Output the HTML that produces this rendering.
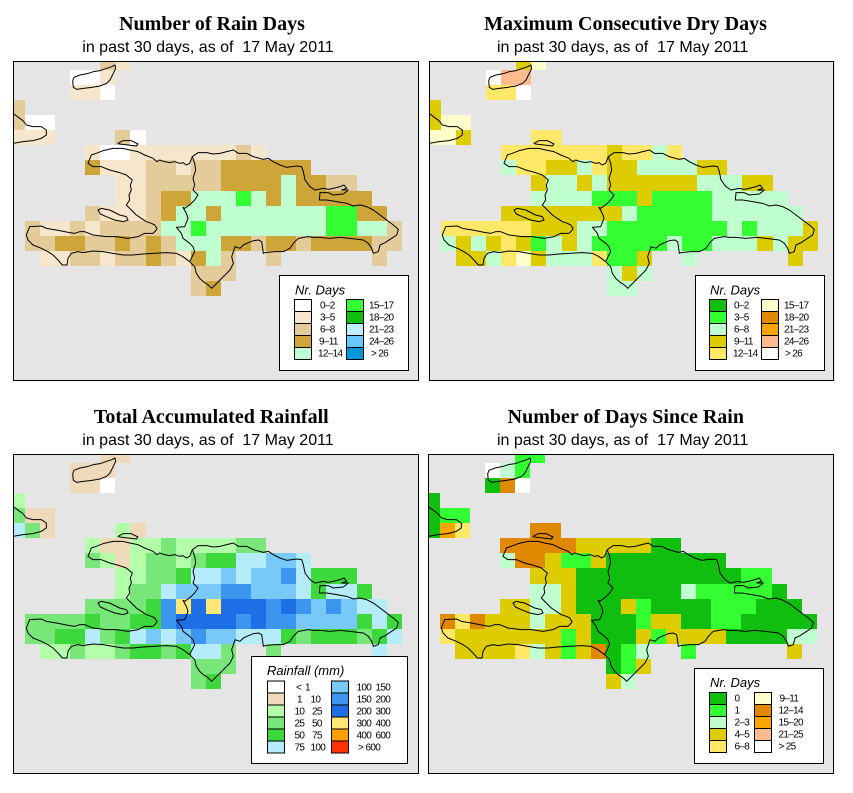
<!DOCTYPE html>
<html>
<head>
<meta charset="utf-8">
<style>
html,body{margin:0;padding:0;background:#fff;}
svg{display:block;}
.t{font-family:"Liberation Serif",serif;font-weight:bold;font-size:20px;}
.st{font-family:"Liberation Sans",sans-serif;font-size:16px;white-space:pre;}
.lt{font-family:"Liberation Sans",sans-serif;font-size:13px;font-style:italic;}
.lb{font-family:"Liberation Sans",sans-serif;font-size:10px;letter-spacing:-0.7px;}
</style>
</head>
<body>
<svg width="853" height="793" xmlns="http://www.w3.org/2000/svg" xmlns:xlink="http://www.w3.org/1999/xlink">
<defs>
  <clipPath id="fc"><rect x="0" y="0" width="406" height="320"/></clipPath>
  <g id="coast" transform="translate(-13,-61) scale(0.333333)" fill="none" stroke="#000" stroke-width="3" stroke-linejoin="round">
    <path d="M264,490 L274,465 L289,460 L309,452 L339,445 L369,445 L389,450 L414,455 L434,465 L459,475 L471,485 L479,480 L494,485 L509,488 L524,485 L539,490 L549,488 L559,495 L569,490 L577,470 L594,458 L620,458 L640,462 L660,460 L680,455 L700,450 L715,460 L740,460 L760,470 L790,478 L805,475 L820,485 L840,495 L860,502 L890,498 L905,500 L910,515 L915,540 L930,560 L945,570 L970,565 L985,568 L1000,565 L1020,560 L1032,555 L1040,565 L1025,570 L1045,570 L1030,582 L1000,585 L985,578 L960,578 L958,600 L980,600 L1010,605 L1040,610 L1060,618 L1080,615 L1100,620 L1120,630 L1140,645 L1160,660 L1180,675 L1195,688 L1190,705 L1175,715 L1155,728 L1140,735 L1135,755 L1120,760 L1115,745 L1105,730 L1090,720 L1050,715 L1020,712 L990,715 L960,712 L940,712 L925,710 L895,715 L880,730 L870,745 L850,755 L825,755 L795,758 L790,760 L788,745 L785,725 L775,720 L760,722 L745,728 L730,735 L720,745 L705,740 L700,755 L695,770 L700,790 L690,810 L675,825 L660,840 L645,855 L635,865 L625,855 L610,845 L599,835 L589,820 L584,800 L569,785 L549,770 L529,760 L499,758 L459,760 L429,762 L399,765 L369,765 L339,760 L309,755 L279,753 L249,758 L234,755 L214,760 L204,775 L201,795 L187,795 L174,780 L159,765 L144,755 L124,745 L99,735 L84,720 L79,705 L89,680 L124,678 L139,685 L169,690 L209,698 L224,700 L239,695 L254,695 L279,705 L319,710 L349,710 L384,715 L414,710 L434,700 L459,700 L469,690 L471,685 L464,675 L454,670 L439,665 L424,655 L409,645 L394,630 L379,615 L389,600 L387,585 L394,570 L391,555 L397,540 L391,535 L379,525 L359,518 L329,510 L304,500 L279,500 Z"/>
    <path d="M577,470 L584,490 L587,510 L579,535 L584,555 L579,570 L594,585 L584,600 L574,610 L564,618 L554,625 L549,622 L559,640 L564,655 L554,680 L529,682 L544,700 L549,715 L569,730 L579,740 L584,755 L574,775 L569,785"/>
    <path d="M294,630 L304,625 L329,630 L359,645 L379,650 L384,660 L369,665 L344,660 L319,650 L301,642 Z"/>
    <path d="M354,430 L369,422 L394,422 L414,432 L409,438 L384,435 L359,432 Z"/>
    <path d="M218,243 L222,232 L240,225 L265,220 L280,215 L300,212 L320,205 L335,200 L345,195 L347,205 L340,220 L330,240 L320,250 L300,258 L275,262 L250,265 L230,268 L220,262 Z"/>
    <path d="M39,340 L55,352 L69,362 L79,375 L99,380 L124,380 L139,390 L139,405 L124,415 L99,422 L69,425 L39,430"/>
  </g>
</defs>

<!-- Titles -->
<text class="t" x="212" y="30" text-anchor="middle">Number of Rain Days</text>
<text class="st" x="208" y="52" text-anchor="middle" xml:space="preserve">in past 30 days, as of  17 May 2011</text>
<text class="t" x="625.5" y="30" text-anchor="middle">Maximum Consecutive Dry Days</text>
<text class="st" x="622.7" y="52" text-anchor="middle" xml:space="preserve">in past 30 days, as of  17 May 2011</text>
<text class="t" x="211.3" y="423" text-anchor="middle">Total Accumulated Rainfall</text>
<text class="st" x="208" y="445" text-anchor="middle" xml:space="preserve">in past 30 days, as of  17 May 2011</text>
<text class="t" x="625.8" y="423" text-anchor="middle">Number of Days Since Rain</text>
<text class="st" x="622.7" y="445" text-anchor="middle" xml:space="preserve">in past 30 days, as of  17 May 2011</text>

<!-- Panel 1 -->
<g transform="translate(13,61)">
  <rect x="0" y="0" width="406" height="320" fill="#e5e5e5"/>
  <g clip-path="url(#fc)">
    <g id="c1" shape-rendering="crispEdges"></g>
    <use xlink:href="#coast" href="#coast"/>
  </g>
  <rect x="0.5" y="0.5" width="405" height="319" fill="none" stroke="#000"/>
  <rect x="266.5" y="214.5" width="129" height="95" fill="#fff" stroke="#000"/>
  <text class="lt" x="282" y="233.5">Nr. Days</text>
  <g stroke="#000" shape-rendering="crispEdges">
    <rect x="281.5" y="238.5" width="17" height="12" fill="#ffffff"/>
    <rect x="281.5" y="250.5" width="17" height="12" fill="#f5e6cc"/>
    <rect x="281.5" y="262.5" width="17" height="12" fill="#e4cc9a"/>
    <rect x="281.5" y="274.5" width="17" height="12" fill="#cda538"/>
    <rect x="281.5" y="286.5" width="17" height="12" fill="#c0ffd0"/>
    <rect x="333.5" y="238.5" width="17" height="12" fill="#33ff33"/>
    <rect x="333.5" y="250.5" width="17" height="12" fill="#10be10"/>
    <rect x="333.5" y="262.5" width="17" height="12" fill="#bfefff"/>
    <rect x="333.5" y="274.5" width="17" height="12" fill="#66c8ff"/>
    <rect x="333.5" y="286.5" width="17" height="12" fill="#0096dc"/>
  </g>
  <text class="lb" x="307" y="247.5">0–2</text>
  <text class="lb" x="307" y="259.5">3–5</text>
  <text class="lb" x="307" y="271.5">6–8</text>
  <text class="lb" x="306" y="283.5">9–11</text>
  <text class="lb" x="305" y="295.5">12–14</text>
  <text class="lb" x="356" y="247.5">15–17</text>
  <text class="lb" x="356" y="259.5">18–20</text>
  <text class="lb" x="356" y="271.5">21–23</text>
  <text class="lb" x="356" y="283.5">24–26</text>
  <text class="lb" x="358" y="295.5">&gt; 26</text>
</g>

<!-- Panel 2 -->
<g transform="translate(429,61)">
  <rect x="0" y="0" width="406" height="320" fill="#e5e5e5"/>
  <g clip-path="url(#fc)">
    <g id="c2" shape-rendering="crispEdges"></g>
    <use xlink:href="#coast" href="#coast"/>
  </g>
  <rect x="0.5" y="0.5" width="404" height="319" fill="none" stroke="#000"/>
  <rect x="266.5" y="214.5" width="129" height="95" fill="#fff" stroke="#000"/>
  <text class="lt" x="281" y="233.5">Nr. Days</text>
  <g stroke="#000" shape-rendering="crispEdges">
    <rect x="280.5" y="238.5" width="17" height="12" fill="#10be10"/>
    <rect x="280.5" y="250.5" width="17" height="12" fill="#33ff33"/>
    <rect x="280.5" y="262.5" width="17" height="12" fill="#c0ffd0"/>
    <rect x="280.5" y="274.5" width="17" height="12" fill="#dccc00"/>
    <rect x="280.5" y="286.5" width="17" height="12" fill="#ffe868"/>
    <rect x="332.5" y="238.5" width="17" height="12" fill="#ffffcc"/>
    <rect x="332.5" y="250.5" width="17" height="12" fill="#e08800"/>
    <rect x="332.5" y="262.5" width="17" height="12" fill="#ffa500"/>
    <rect x="332.5" y="274.5" width="17" height="12" fill="#ffbb90"/>
    <rect x="332.5" y="286.5" width="17" height="12" fill="#ffffff"/>
  </g>
  <text class="lb" x="305" y="247.5">0–2</text>
  <text class="lb" x="305" y="259.5">3–5</text>
  <text class="lb" x="305" y="271.5">6–8</text>
  <text class="lb" x="305" y="283.5">9–11</text>
  <text class="lb" x="304" y="295.5">12–14</text>
  <text class="lb" x="355" y="247.5">15–17</text>
  <text class="lb" x="355" y="259.5">18–20</text>
  <text class="lb" x="355" y="271.5">21–23</text>
  <text class="lb" x="355" y="283.5">24–26</text>
  <text class="lb" x="356" y="295.5">&gt; 26</text>
</g>

<!-- Panel 3 -->
<g transform="translate(13,454)">
  <rect x="0" y="0" width="406" height="320" fill="#e5e5e5"/>
  <g clip-path="url(#fc)">
    <g id="c3" shape-rendering="crispEdges"></g>
    <use xlink:href="#coast" href="#coast"/>
  </g>
  <rect x="0.5" y="0.5" width="405" height="319" fill="none" stroke="#000"/>
  <rect x="238.5" y="202.5" width="156" height="107" fill="#fff" stroke="#000"/>
  <text class="lt" x="254" y="221">Rainfall (mm)</text>
  <g stroke="#000" shape-rendering="crispEdges">
    <rect x="254.5" y="227" width="17" height="12" fill="#ffffff"/>
    <rect x="254.5" y="239" width="17" height="12" fill="#eedab8"/>
    <rect x="254.5" y="251" width="17" height="12" fill="#b4ffaa"/>
    <rect x="254.5" y="263" width="17" height="12" fill="#78e678"/>
    <rect x="254.5" y="275" width="17" height="12" fill="#3cd83c"/>
    <rect x="254.5" y="287" width="17" height="12" fill="#b4ecfa"/>
    <rect x="318.5" y="227" width="17" height="12" fill="#78c8f8"/>
    <rect x="318.5" y="239" width="17" height="12" fill="#3c96f0"/>
    <rect x="318.5" y="251" width="17" height="12" fill="#1e6ee6"/>
    <rect x="318.5" y="263" width="17" height="12" fill="#ffe678"/>
    <rect x="318.5" y="275" width="17" height="12" fill="#ffa000"/>
    <rect x="318.5" y="287" width="17" height="12" fill="#ff3200"/>
  </g>
  <text class="lb" y="236.5"><tspan x="283">&lt;</tspan><tspan x="292">1</tspan></text>
  <text class="lb" y="248.5"><tspan x="284">1</tspan><tspan x="297.5">10</tspan></text>
  <text class="lb" y="260.5"><tspan x="281.5">10</tspan><tspan x="299">25</tspan></text>
  <text class="lb" y="272.5"><tspan x="281.5">25</tspan><tspan x="299">50</tspan></text>
  <text class="lb" y="284.5"><tspan x="281.5">50</tspan><tspan x="299">75</tspan></text>
  <text class="lb" y="296.5"><tspan x="281.5">75</tspan><tspan x="297.5">100</tspan></text>
  <text class="lb" y="236.5"><tspan x="343.5">100</tspan><tspan x="362.5">150</tspan></text>
  <text class="lb" y="248.5"><tspan x="343.5">150</tspan><tspan x="362.5">200</tspan></text>
  <text class="lb" y="260.5"><tspan x="343.5">200</tspan><tspan x="362.5">300</tspan></text>
  <text class="lb" y="272.5"><tspan x="343.5">300</tspan><tspan x="362.5">400</tspan></text>
  <text class="lb" y="284.5"><tspan x="343.5">400</tspan><tspan x="362.5">600</tspan></text>
  <text class="lb" y="296.5"><tspan x="345">&gt;</tspan><tspan x="352.5">600</tspan></text>
</g>

<!-- Panel 4 -->
<g transform="translate(428,454)">
  <rect x="0" y="0" width="406" height="320" fill="#e5e5e5"/>
  <g clip-path="url(#fc)">
    <g id="c4" shape-rendering="crispEdges"></g>
    <use xlink:href="#coast" href="#coast"/>
  </g>
  <rect x="0.5" y="0.5" width="405" height="319" fill="none" stroke="#000"/>
  <rect x="266.5" y="214.5" width="129" height="95" fill="#fff" stroke="#000"/>
  <text class="lt" x="282" y="233">Nr. Days</text>
  <g stroke="#000" shape-rendering="crispEdges">
    <rect x="281.5" y="238.5" width="17" height="12" fill="#10be10"/>
    <rect x="281.5" y="250.5" width="17" height="12" fill="#33ff33"/>
    <rect x="281.5" y="262.5" width="17" height="12" fill="#c0ffd0"/>
    <rect x="281.5" y="274.5" width="17" height="12" fill="#dccc00"/>
    <rect x="281.5" y="286.5" width="17" height="12" fill="#ffe868"/>
    <rect x="326.5" y="238.5" width="17" height="12" fill="#ffffcc"/>
    <rect x="326.5" y="250.5" width="17" height="12" fill="#e08800"/>
    <rect x="326.5" y="262.5" width="17" height="12" fill="#ffa500"/>
    <rect x="326.5" y="274.5" width="17" height="12" fill="#ffbb90"/>
    <rect x="326.5" y="286.5" width="17" height="12" fill="#ffffff"/>
  </g>
  <text class="lb" x="306.5" y="247.5">0</text>
  <text class="lb" x="306.5" y="259.5">1</text>
  <text class="lb" x="306.5" y="271.5">2–3</text>
  <text class="lb" x="306.5" y="283.5">4–5</text>
  <text class="lb" x="306.5" y="295.5">6–8</text>
  <text class="lb" x="351.5" y="247.5">9–11</text>
  <text class="lb" x="350.5" y="259.5">12–14</text>
  <text class="lb" x="350.5" y="271.5">15–20</text>
  <text class="lb" x="350.5" y="283.5">21–25</text>
  <text class="lb" x="350.5" y="295.5">&gt; 25</text>
</g>
</svg>

<script>
(function(){
  var NS="http://www.w3.org/2000/svg";
  var P=[
    {id:"c1",c:{W:"#ffffff",L:"#f5e6cc",T:"#e4cc9a",M:"#cda538",m:"#c0ffd0",G:"#33ff33"},
     r:["......TL","....WWL","....LLW","T","TWW","LLL....TW",
        ".....LWWLLLLLLLTL",".....MLLLTTLTTMMMMMM",".......LLTTTTTMMMMmMMTT",
        ".......LLTMMmmmGmMmMMMMM",".....TLLLTMmmMmmmmmmmGGMM",".TLLTLTTTTmmGmmmmmmmmGGmmT",
        ".TTMMTTMTMTmmmMMTMMTMMMMTT","..LLTTLTTMTLMmT..T......T","............TTT","............TM"]},
    {id:"c2",c:{G:"#33ff33",m:"#c0ffd0",O:"#dccc00",Y:"#ffe868",P:"#ffffcc",E:"#ffbb90",W:"#ffffff"},
     r:["......OP","....WEE","....YYW","O","OPP","PPO....YY",
        ".....YYYYYYYOYYmY",".....mYYOOmYOOmmmmOO",".......OmmOmOOOOOOmmmOO",
        ".......mmmmGGGOGGGGmmmmm",".....OOOOOOOOmGGGGGmmmmmm",".YYYYYYOOOmmGGGGGGGGmGmmmO",
        ".mOmOYOGmOmGGGGGmGGmmmOmOO","..OOmYPOmmmYGGO..m......O","............mOm","............mm"]},
    {id:"c3",c:{w:"#ffffff",b:"#eedab8",l:"#b4ffaa",g:"#78e678",G:"#3cd83c",c:"#b4ecfa",s:"#78c8f8",B:"#3c96f0",D:"#1e6ee6",Y:"#ffe678"},
     r:["......bb","....bbb","....bbw","l","gbb","cgb....lb",
        ".....lbbllgllllgg",".....glblgglgGGccssc",".......llggGccscssBcGGG",
        ".......lggcsssBBssscGccG",".....ggggGBYDYDDDBDBsBscc",".ggggGggGGBDDDDBDBBssssGcG",
        ".ggGGcgGcscsBsscccGgGGGgGc","..llgllgGGgGccg..g......c","............ggg","............gG"]},
    {id:"c4",c:{D:"#10be10",G:"#33ff33",m:"#c0ffd0",O:"#dccc00",Y:"#ffe868",R:"#e08800",A:"#ffa500",W:"#ffffff"},
     r:["......GG","....WmG","....DRW","D","DGG","DAY....RR",
        ".....RRRRROOOOODD",".....mRROGGODDDDDDDD",".......OOODDDDDDDDDDDGG",
        ".......mmODDDDDDDmGGGGGD",".....OOmmODDDOGDDDDGGGDDD",".RYROOOmOOODDDGOODDGGDDDDD",
        ".YOOOOOOOGODDDOGOOOODDDDmm","..OOOOYmOGORDGm..G......O","............DGO","............Om"]}
  ];
  var S=15.07,X0=12,Y0=9;
  P.forEach(function(p){
    var g=document.getElementById(p.id);
    p.r.forEach(function(row,ri){
      var j=ri-1;
      for(var k=0;k<row.length;k++){
        var ch=row.charAt(k);
        if(ch==="."||!p.c[ch])continue;
        var i=k-1;
        var x1=Math.round(X0+S*i),x2=Math.round(X0+S*(i+1));
        var y1=Math.round(Y0+S*j),y2=Math.round(Y0+S*(j+1));
        var r=document.createElementNS(NS,"rect");
        r.setAttribute("x",x1);r.setAttribute("y",y1);
        r.setAttribute("width",x2-x1);r.setAttribute("height",y2-y1);
        r.setAttribute("fill",p.c[ch]);
        g.appendChild(r);
      }
    });
  });
})();
</script>
</body>
</html>
